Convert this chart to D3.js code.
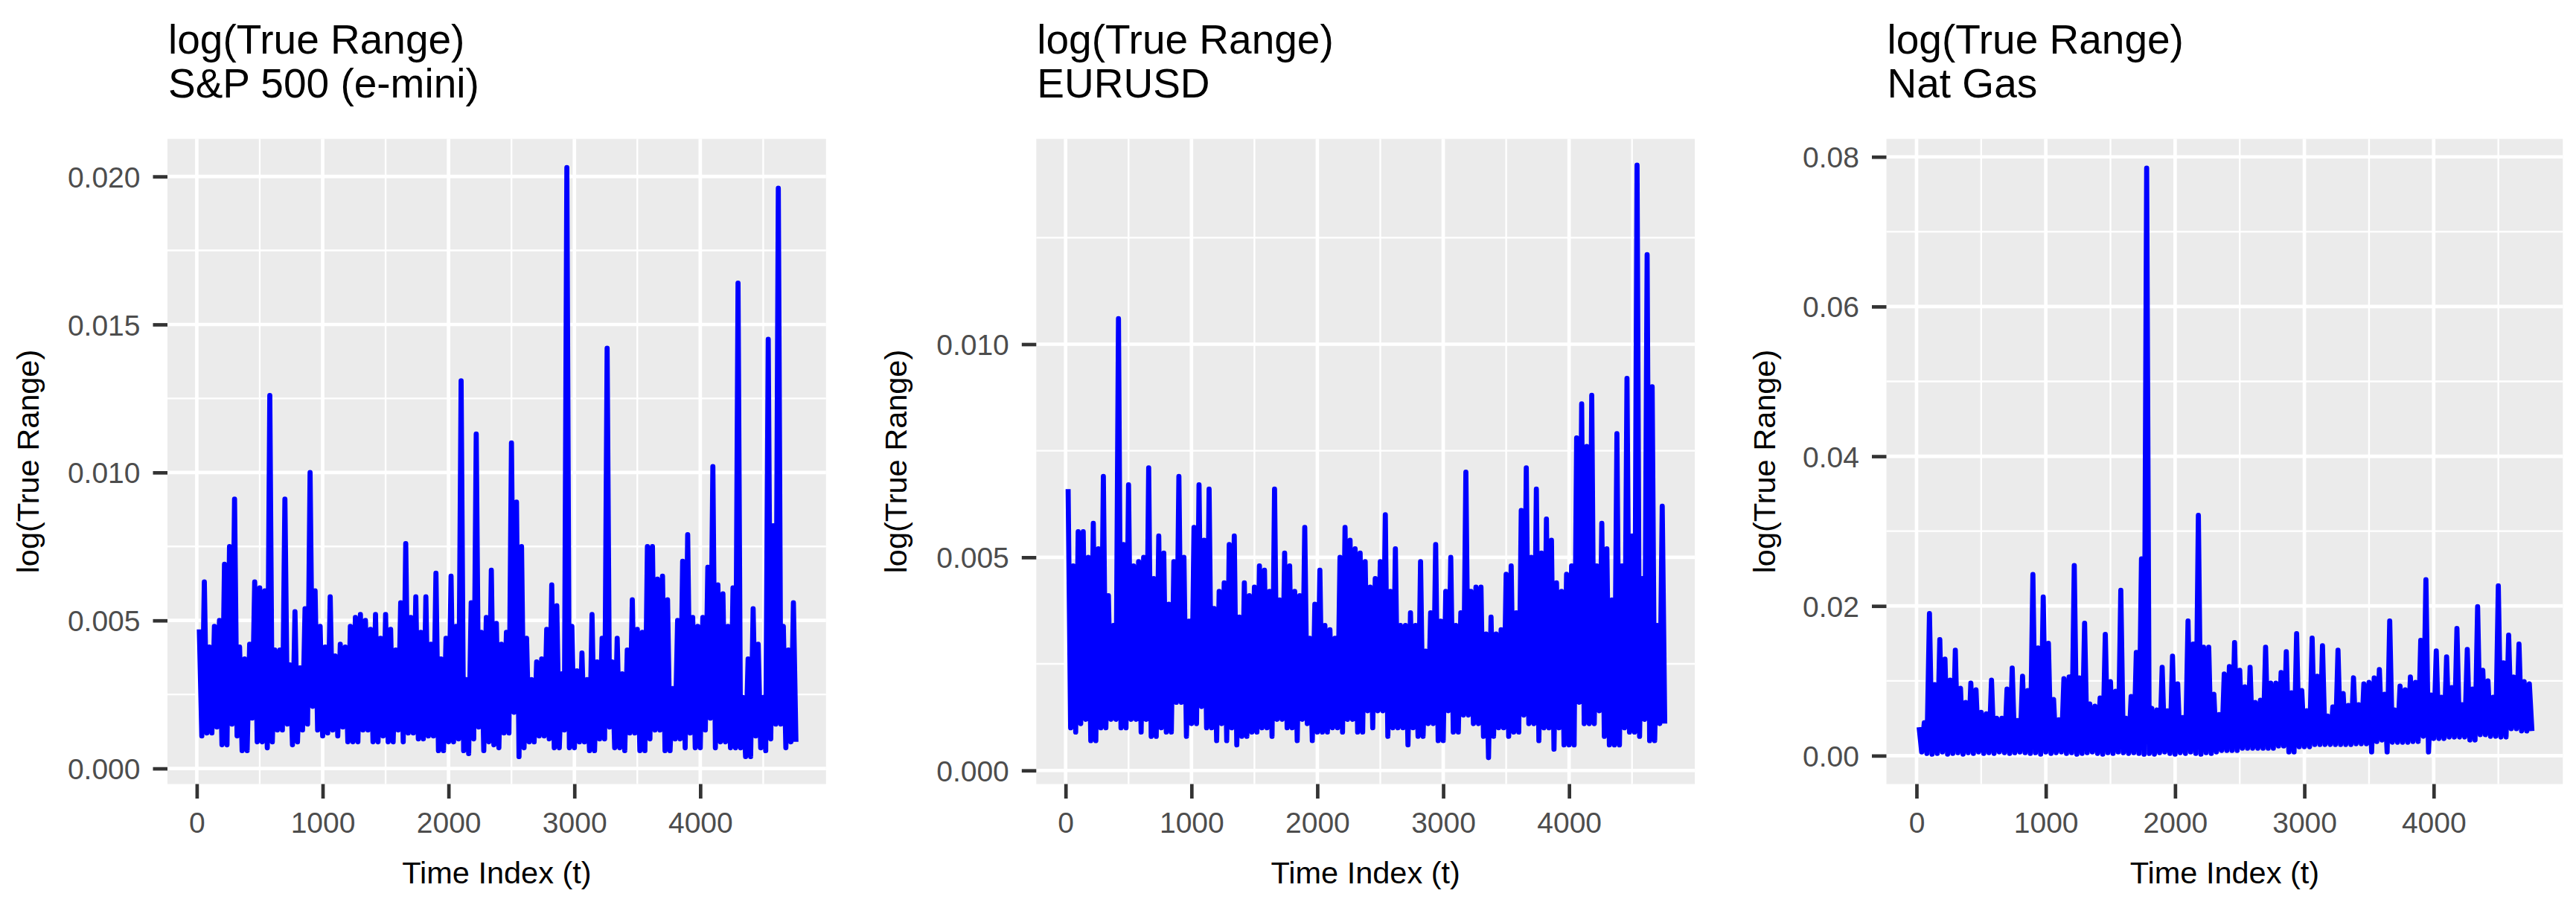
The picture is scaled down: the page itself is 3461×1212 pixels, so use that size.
<!DOCTYPE html>
<html><head><meta charset="utf-8">
<script src="https://cdn.jsdelivr.net/npm/d3@7"></script>
<style>
html,body{margin:0;padding:0;background:#fff;}
svg{display:block;}
text{font-family:"Liberation Sans",Arial,Helvetica,sans-serif;}
</style></head><body>
<svg id="chart" width="3461" height="1212"></svg>
<script>
// ---------------- DATA ----------------
// peaks (hi) sit at t = 20, 60, 100, ...; troughs (lo) at t = 40, 80, 120, ...
const tFirst = 20, tGap = 20;
const xTicks = [0, 1000, 2000, 3000, 4000];
const xMinor = [500, 1500, 2500, 3500, 4500];

const spTicks = [0, 0.005, 0.010, 0.015, 0.020];
const spMinor = [0.0025, 0.0075, 0.0125, 0.0175];
const euTicks = [0, 0.005, 0.010];
const euMinor = [0.0025, 0.0075, 0.0125];
const ngTicks = [0, 0.02, 0.04, 0.06, 0.08];
const ngMinor = [0.01, 0.03, 0.05, 0.07];

const titles = ["S&P 500 (e-mini)", "EURUSD", "Nat Gas"];

const spHi = [0.0047,0.0063,0.0041,0.0048,0.0050,0.0069,0.0075,0.0091,0.0041,0.0037,
0.0042,0.0063,0.0061,0.0060,0.0126,0.0040,0.0040,0.0091,0.0035,0.0053,
0.0034,0.0054,0.0100,0.0060,0.0048,0.0041,0.0058,0.0038,0.0042,0.0041,
0.0048,0.0051,0.0052,0.0050,0.0047,0.0052,0.0044,0.0052,0.0047,0.0040,
0.0056,0.0076,0.0051,0.0058,0.0046,0.0058,0.0042,0.0066,0.0037,0.0044,
0.0065,0.0048,0.0131,0.0030,0.0056,0.0113,0.0046,0.0051,0.0067,0.0049,
0.0042,0.0046,0.0110,0.0090,0.0075,0.0044,0.0030,0.0036,0.0037,0.0047,
0.0062,0.0055,0.0032,0.0203,0.0048,0.0033,0.0039,0.0030,0.0052,0.0036,
0.0044,0.0142,0.0036,0.0044,0.0032,0.0040,0.0057,0.0047,0.0046,0.0075,
0.0075,0.0064,0.0065,0.0057,0.0027,0.0050,0.0070,0.0079,0.0051,0.0048,
0.0051,0.0068,0.0102,0.0062,0.0059,0.0048,0.0061,0.0164,0.0024,0.0037,
0.0054,0.0042,0.0024,0.0145,0.0082,0.0196,0.0048,0.0040,0.0056];
const spLo = [0.0011,0.0012,0.0012,0.0014,0.0008,0.0008,0.0015,0.0011,0.0006,0.0006,
0.0017,0.0009,0.0009,0.0007,0.0009,0.0013,0.0013,0.0015,0.0008,0.0009,
0.0013,0.0015,0.0021,0.0013,0.0011,0.0012,0.0013,0.0011,0.0014,0.0009,
0.0009,0.0009,0.0013,0.0013,0.0009,0.0009,0.0011,0.0009,0.0009,0.0013,
0.0009,0.0012,0.0012,0.0010,0.0010,0.0011,0.0011,0.0006,0.0006,0.0009,
0.0009,0.0010,0.0006,0.0005,0.0010,0.0014,0.0006,0.0009,0.0008,
0.0007,0.0012,0.0012,0.0019,0.0004,0.0007,0.0009,0.0009,0.0011,0.0011,
0.0010,0.0007,0.0007,0.0013,0.0007,0.0007,0.0009,0.0009,0.0006,0.0006,
0.0010,0.0010,0.0014,0.0007,0.0007,0.0006,0.0012,0.0012,0.0006,0.0006,
0.0010,0.0013,0.0013,0.0006,0.0006,0.0010,0.0010,0.0007,0.0012,0.0007,
0.0007,0.0013,0.0017,0.0007,0.0009,0.0009,0.0007,0.0007,0.0007,0.0004,
0.0004,0.0011,0.0007,0.0006,0.0010,0.0015,0.0015,0.0007,0.0009,0.0009];

const euHi = [0.0066,0.0048,0.0056,0.0056,0.0050,0.0058,0.0052,0.0069,0.0041,0.0034,
0.0106,0.0053,0.0067,0.0048,0.0049,0.0050,0.0071,0.0045,0.0055,0.0051,
0.0039,0.0049,0.0069,0.0050,0.0035,0.0057,0.0067,0.0054,0.0066,0.0038,
0.0042,0.0044,0.0053,0.0055,0.0036,0.0044,0.0041,0.0043,0.0048,0.0047,
0.0042,0.0066,0.0040,0.0051,0.0048,0.0042,0.0041,0.0057,0.0031,0.0039,
0.0047,0.0034,0.0033,0.0031,0.0050,0.0057,0.0054,0.0052,0.0051,
0.0049,0.0043,0.0045,0.0049,0.0060,0.0042,0.0052,0.0034,0.0034,0.0037,
0.0034,0.0049,0.0028,0.0037,0.0053,0.0035,0.0042,0.0050,0.0034,0.0037,
0.0070,0.0042,0.0043,0.0043,0.0032,0.0036,0.0032,0.0033,0.0046,0.0048,
0.0037,0.0061,0.0071,0.0050,0.0066,0.0051,0.0059,0.0054,0.0044,0.0042,
0.0046,0.0048,0.0078,0.0086,0.0076,0.0088,0.0048,0.0058,0.0052,0.0040,
0.0079,0.0048,0.0092,0.0055,0.0142,0.0045,0.0121,0.0090,0.0034,0.0062];
const euLo = [0.0010,0.0009,0.0011,0.0012,0.0007,0.0007,0.0010,0.0010,0.0012,0.0012,
0.0010,0.0010,0.0012,0.0012,0.0009,0.0012,0.0008,0.0008,0.0010,0.0009,
0.0009,0.0016,0.0016,0.0008,0.0011,0.0011,0.0015,0.0010,0.0010,0.0007,
0.0011,0.0007,0.0010,0.0006,0.0008,0.0008,0.0009,0.0009,0.0010,0.0010,
0.0008,0.0012,0.0012,0.0010,0.0010,0.0007,0.0012,0.0011,0.0007,0.0009,
0.0009,0.0009,0.0010,0.0010,0.0009,0.0012,0.0012,0.0009,0.0009,
0.0014,0.0010,0.0014,0.0014,0.0008,0.0010,0.0010,0.0010,0.0006,0.0010,
0.0008,0.0008,0.0011,0.0011,0.0007,0.0007,0.0014,0.0009,0.0009,0.0013,
0.0013,0.0011,0.0011,0.0008,0.0003,0.0008,0.0010,0.0010,0.0008,0.0009,
0.0009,0.0013,0.0011,0.0011,0.0007,0.0010,0.0010,0.0005,0.0010,0.0006,
0.0006,0.0006,0.0016,0.0011,0.0011,0.0011,0.0014,0.0008,0.0006,0.0006,
0.0006,0.0010,0.0009,0.0009,0.0008,0.0012,0.0007,0.0007,0.0011,0.0011];

const ngHi = [0.0038,0.0044,0.0190,0.0095,0.0155,0.0129,0.0101,0.0141,0.0090,0.0071,
0.0097,0.0088,0.0058,0.0056,0.0101,0.0050,0.0050,0.0089,0.0117,0.0047,
0.0106,0.0087,0.0242,0.0144,0.0212,0.0150,0.0075,0.0048,0.0103,0.0105,
0.0254,0.0104,0.0177,0.0069,0.0066,0.0077,0.0162,0.0099,0.0086,0.0221,
0.0050,0.0079,0.0138,0.0263,0.0785,0.0063,0.0061,0.0118,0.0060,0.0133,
0.0096,0.0051,0.0180,0.0149,0.0321,0.0145,0.0145,0.0082,
0.0055,0.0109,0.0119,0.0151,0.0114,0.0092,0.0118,0.0071,0.0074,0.0145,
0.0097,0.0097,0.0111,0.0139,0.0084,0.0163,0.0087,0.0060,0.0157,0.0106,
0.0147,0.0053,0.0065,0.0141,0.0083,0.0067,0.0104,0.0068,0.0096,0.0098,
0.0104,0.0115,0.0082,0.0180,0.0061,0.0093,0.0088,0.0105,0.0098,0.0154,
0.0235,0.0081,0.0140,0.0078,0.0132,0.0091,0.0170,0.0068,0.0142,0.0089,
0.0199,0.0114,0.0100,0.0078,0.0227,0.0124,0.0161,0.0105,0.0149,0.0099,0.0096];
const ngLo = [0.0005,0.0003,0.0002,0.0003,0.0005,0.0002,0.0003,0.0004,0.0002,0.0004,
0.0003,0.0005,0.0003,0.0004,0.0003,0.0005,0.0004,0.0003,0.0004,0.0005,
0.0004,0.0003,0.0004,0.0002,0.0005,0.0003,0.0004,0.0005,0.0003,0.0004,
0.0002,0.0003,0.0004,0.0005,0.0003,0.0002,0.0004,0.0003,0.0005,0.0004,
0.0003,0.0004,0.0003,0.0002,0.0003,0.0002,0.0004,0.0005,0.0003,0.0002,
0.0004,0.0003,0.0005,0.0003,0.0002,0.0004,0.0003,0.0005,
0.0007,0.0007,0.0007,0.0007,0.0010,0.0010,0.0010,0.0010,0.0010,0.0010,
0.0010,0.0013,0.0013,0.0005,0.0005,0.0012,0.0012,0.0012,0.0015,0.0015,
0.0015,0.0015,0.0015,0.0015,0.0015,0.0015,0.0016,0.0016,0.0016,0.0005,
0.0019,0.0021,0.0005,0.0018,0.0018,0.0018,0.0018,0.0019,0.0019,0.0026,
0.0005,0.0023,0.0023,0.0023,0.0025,0.0025,0.0025,0.0025,0.0021,0.0021,
0.0028,0.0028,0.0026,0.0026,0.0025,0.0025,0.0036,0.0036,0.0033,0.0033,0.0033];

// ---------------- LAYOUT ----------------
const panelTop = 186.6, panelBottom = 1053.5;
const xDomain = [-233, 4999];
const panels = [
  {hi: spHi, lo: spLo, title: titles[0], yDomain: [-0.000526, 0.02127], ticks: spTicks, minor: spMinor, fmt: ".3f", left: 225, width: 884.8, yTitleX: 52},
  {hi: euHi, lo: euLo, title: titles[1], yDomain: [-0.000319, 0.014817], ticks: euTicks, minor: euMinor, fmt: ".3f", left: 1392.3, width: 884.8, yTitleX: 1218},
  {hi: ngHi, lo: ngLo, title: titles[2], yDomain: [-0.00379, 0.0824], ticks: ngTicks, minor: ngMinor, fmt: ".2f", left: 2534.5, width: 908.8, yTitleX: 2385}
];

const svg = d3.select("#chart");
const defs = svg.append("defs");
const TICK_LEN = 19.5, GRID_MAJ = 4.7, GRID_MIN = 2.35;

panels.forEach((p, i) => {
  const x = d3.scaleLinear().domain(xDomain).range([p.left, p.left + p.width]);
  const y = d3.scaleLinear().domain(p.yDomain).range([panelBottom, panelTop]);
  const g = svg.append("g");

  // background
  g.append("rect").attr("x", p.left).attr("y", panelTop)
    .attr("width", p.width).attr("height", panelBottom - panelTop).attr("fill", "#EBEBEB");

  // minor grid
  g.selectAll(null).data(p.minor).enter().append("line")
    .attr("x1", p.left).attr("x2", p.left + p.width)
    .attr("y1", d => y(d)).attr("y2", d => y(d))
    .attr("stroke", "#fff").attr("stroke-width", GRID_MIN);
  g.selectAll(null).data(xMinor).enter().append("line")
    .attr("y1", panelTop).attr("y2", panelBottom)
    .attr("x1", d => x(d)).attr("x2", d => x(d))
    .attr("stroke", "#fff").attr("stroke-width", GRID_MIN);
  // major grid
  g.selectAll(null).data(p.ticks).enter().append("line")
    .attr("x1", p.left).attr("x2", p.left + p.width)
    .attr("y1", d => y(d)).attr("y2", d => y(d))
    .attr("stroke", "#fff").attr("stroke-width", GRID_MAJ);
  g.selectAll(null).data(xTicks).enter().append("line")
    .attr("y1", panelTop).attr("y2", panelBottom)
    .attr("x1", d => x(d)).attr("x2", d => x(d))
    .attr("stroke", "#fff").attr("stroke-width", GRID_MAJ);

  // series points: peak, trough, peak, trough ...
  const pts = [];
  const n = Math.max(p.hi.length, p.lo.length);
  for (let k = 0; k < n; k++) {
    if (p.hi[k] !== undefined) pts.push([tFirst + 2 * k * tGap, p.hi[k]]);
    if (p.lo[k] !== undefined) pts.push([tFirst + (2 * k + 1) * tGap, p.lo[k]]);
  }
  const clipId = "clip" + i;
  defs.append("clipPath").attr("id", clipId).append("rect")
    .attr("x", p.left).attr("y", panelTop).attr("width", p.width).attr("height", panelBottom - panelTop);
  const line = d3.line().x(d => x(d[0])).y(d => y(d[1]));
  g.append("path").datum(pts).attr("d", line)
    .attr("clip-path", `url(#${clipId})`)
    .attr("fill", "none").attr("stroke", "#0000FF").attr("stroke-width", 6.8)
    .attr("stroke-linejoin", "round").attr("stroke-linecap", "butt");

  // axes
  const yAxis = d3.axisLeft(y).tickValues(p.ticks).tickFormat(d3.format(p.fmt))
    .tickSize(TICK_LEN).tickPadding(17);
  const ya = svg.append("g").attr("transform", `translate(${p.left},0)`).call(yAxis);
  const xAxis = d3.axisBottom(x).tickValues(xTicks).tickFormat(d3.format("d"))
    .tickSize(TICK_LEN).tickPadding(18.3);
  const xa = svg.append("g").attr("transform", `translate(0,${panelBottom})`).call(xAxis);
  [ya, xa].forEach(a => {
    a.select(".domain").remove();
    a.selectAll(".tick line").attr("stroke", "#333333").attr("stroke-width", GRID_MAJ);
    a.selectAll(".tick text").attr("fill", "#4D4D4D").style("font-size", "39px")
      .style("font-family", '"Liberation Sans", Arial, sans-serif');
  });
  ya.selectAll(".tick text").attr("dy", "0.36em");

  // axis titles
  svg.append("text").attr("x", p.left + p.width / 2).attr("y", 1187)
    .attr("text-anchor", "middle").style("font-size", "41.5px").attr("fill", "#000")
    .text("Time Index (t)");
  svg.append("text")
    .attr("transform", `translate(${p.yTitleX},${(panelTop + panelBottom) / 2}) rotate(-90)`)
    .attr("text-anchor", "middle").style("font-size", "41.5px").attr("fill", "#000")
    .text("log(True Range)");

  // plot title (two lines)
  svg.append("text").attr("x", p.left + 1).attr("y", 72.4)
    .style("font-size", "55px").attr("fill", "#000").text("log(True Range)");
  svg.append("text").attr("x", p.left + 1).attr("y", 130.5)
    .style("font-size", "55px").attr("fill", "#000").text(p.title);
});
</script>
</body></html>
